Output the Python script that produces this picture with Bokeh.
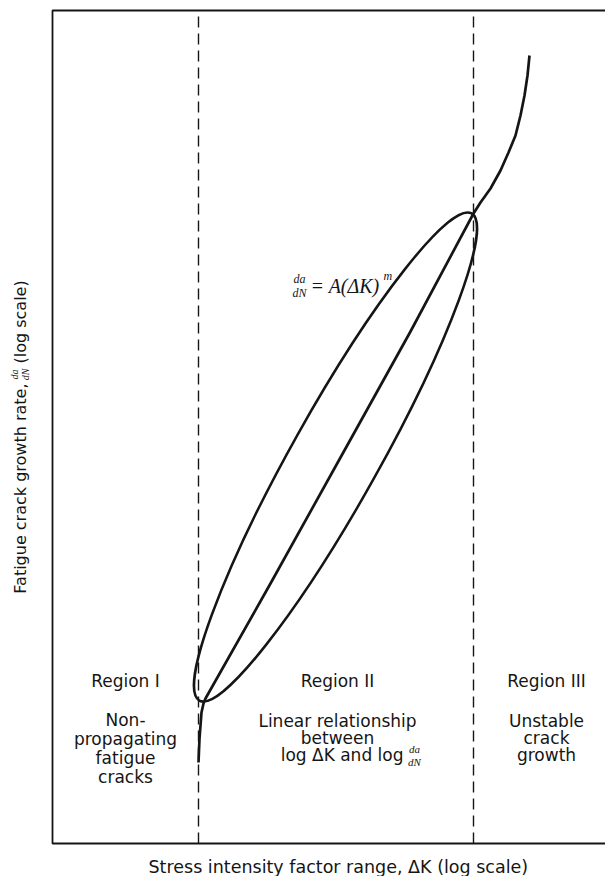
import math
from bokeh.plotting import figure
from bokeh.models import Range1d, Label, BoxAnnotation
from bokeh.embed import file_html
from bokeh.resources import INLINE

# Sigmoidal fatigue crack growth curve, in log units (log ΔK, log da/dN)
log_delta_k = [1.46, 1.465, 1.47, 1.48, 1.49, 1.51, 1.53, 2.18, 2.88, 3.58, 4.21,
               4.28, 4.38, 4.48, 4.56, 4.63, 4.68, 4.72, 4.75, 4.77]
log_da_dn = [0.81, 0.93, 1.05, 1.18, 1.31, 1.40, 1.45, 2.60, 3.86, 5.12, 6.30,
             6.41, 6.55, 6.73, 6.91, 7.08, 7.28, 7.48, 7.68, 7.88]

# Extent of the chart box in log units
x_lo, x_hi = 0.0, 6.0
y_lo, y_hi = 0.0, 8.33

# Boundaries between regions I / II and II / III on the log ΔK axis
region_bounds = [1.46, 4.21]

# Oval drawn round the linear (Paris law) part of the curve
paris_center = [2.83, 3.865]
paris_length = 5.58
paris_width = 0.88
paris_angle_deg = 60.8

# Text blocks for each region
region_titles = ["Region I", "Region II", "Region III"]
region_centers = [0.73, 2.85, 4.94]
region_i_lines = ["Non-", "propagating", "fatigue", "cracks"]
region_ii_lines = ["Linear relationship", "between"]
region_iii_lines = ["Unstable", "crack", "growth"]

SANS = "DejaVu Sans"
SERIF = "Liberation Serif"
INK = "#151515"

p = figure(width=605, height=876, output_backend="svg", toolbar_location=None,
           x_range=Range1d(-0.52, 5.53), y_range=Range1d(-0.33, 8.43),
           x_axis_location=None, y_axis_location=None,
           min_border=0)
p.outline_line_color = None
p.background_fill_color = "white"
p.border_fill_color = "white"
p.grid.visible = False

# Chart box (open on the right, beyond the page edge)
p.add_layout(BoxAnnotation(left=x_lo, right=x_hi, bottom=y_lo, top=y_hi,
                           fill_alpha=0, line_color=INK, line_alpha=1.0, line_width=1.8))

# Dashed region boundaries
p.segment(x0=region_bounds, y0=[y_lo] * 2, x1=region_bounds, y1=[y_hi] * 2,
          line_color=INK, line_width=1.4, line_dash="11 6")

# Curve and the oval
p.line(log_delta_k, log_da_dn, line_color=INK, line_width=2.7, line_join="round")
p.ellipse(x=[paris_center[0]], y=[paris_center[1]], width=[paris_length], height=[paris_width],
          angle=[math.radians(paris_angle_deg)], fill_color=None, line_color=INK, line_width=2.5)


def label(x, y, text, size="17px", font=SANS, style="normal", align="center", angle=0.0):
    p.add_layout(Label(x=x, y=y, text=text, text_font=font, text_font_size=size,
                       text_font_style=style, text_align=align, text_baseline="middle",
                       text_color=INK, angle=angle))


# Region texts
row_title = 1.63
for cx, title in zip(region_centers, region_titles):
    label(cx, row_title, title)
for t, yy in zip(region_i_lines, [1.24, 1.05, 0.86, 0.67]):
    label(region_centers[0], yy, t)
for t, yy in zip(region_ii_lines, [1.23, 1.06]):
    label(region_centers[1], yy, t)
for t, yy in zip(region_iii_lines, [1.23, 1.06, 0.89]):
    label(region_centers[2], yy, t)

# "log ΔK and log da/dN"
label(3.51, 0.89, "log ΔK and log", align="right")
label(3.62, 0.95, "da", size="11px", font=SERIF, style="italic")
label(3.62, 0.82, "dN", size="11px", font=SERIF, style="italic")

# Paris law: da/dN = A(ΔK)^m
label(2.47, 5.65, "da", size="12px", font=SERIF, style="italic")
label(2.47, 5.51, "dN", size="12px", font=SERIF, style="italic")
label(2.58, 5.58, "= A(ΔK)", size="20px", font=SERIF, style="italic", align="left")
label(3.31, 5.68, "m", size="12px", font=SERIF, style="italic", align="left")

# Axis titles
label(0.96, -0.23, "Stress intensity factor range, ΔK (log scale)", size="17.5px", align="left")
label(-0.32, 4.60, "Fatigue crack growth rate,", size="16px", align="right", angle=math.pi / 2)
label(-0.38, 4.69, "da", size="10px", font=SERIF, style="italic", angle=math.pi / 2)
label(-0.27, 4.69, "dN", size="10px", font=SERIF, style="italic", angle=math.pi / 2)
label(-0.32, 4.80, "(log scale)", size="16px", align="left", angle=math.pi / 2)

open("out.html", "w").write(file_html(p, INLINE))
